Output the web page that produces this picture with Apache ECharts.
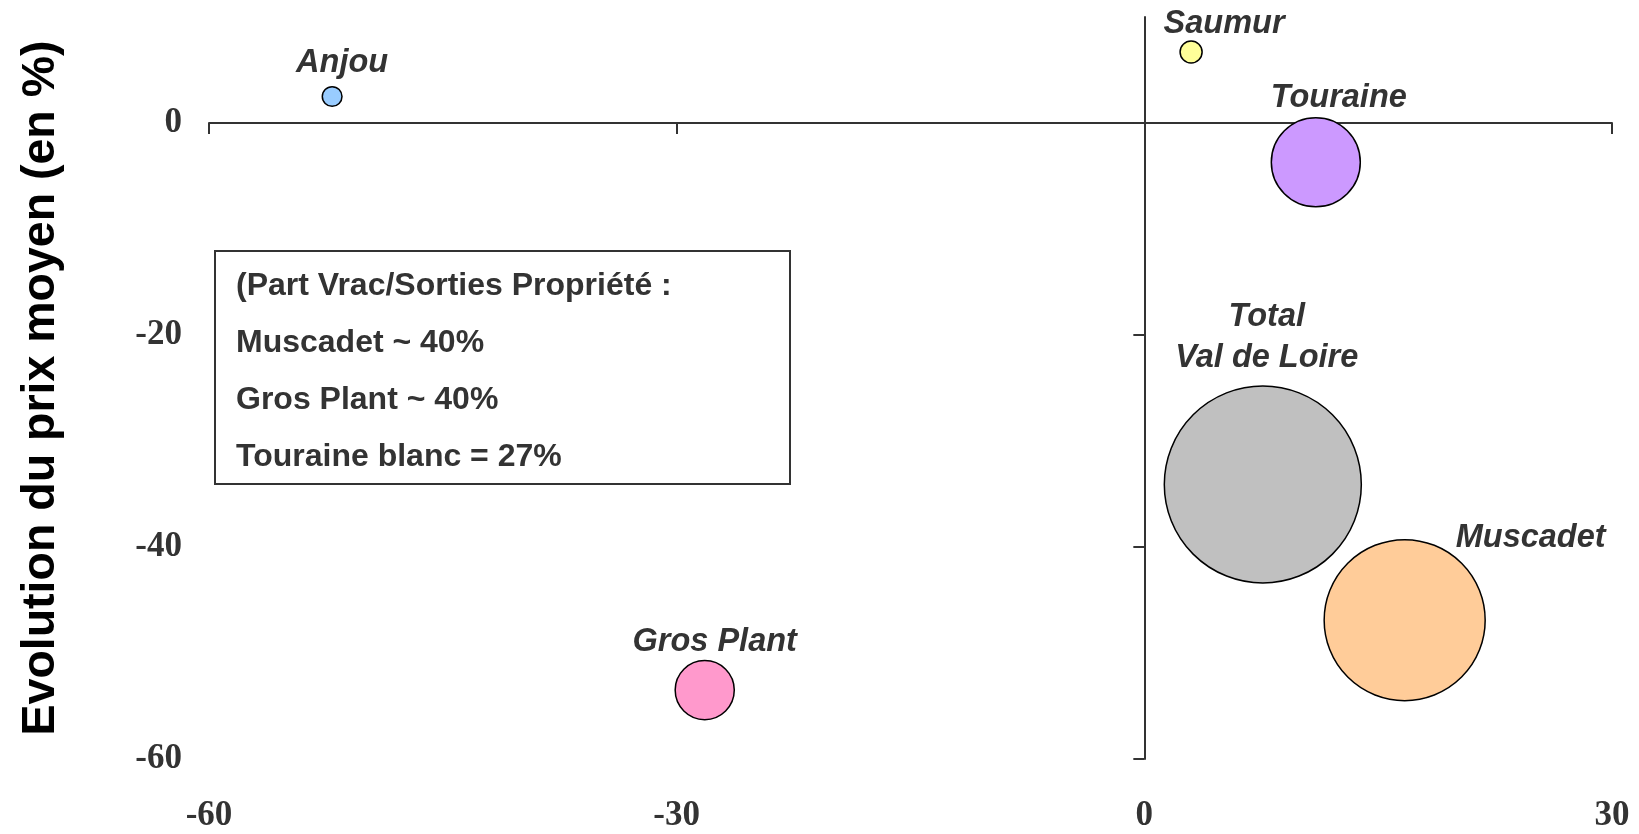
<!DOCTYPE html>
<html>
<head>
<meta charset="utf-8">
<script src="https://cdn.jsdelivr.net/npm/echarts@6/dist/echarts.min.js"></script>
<style>
    html, body { margin: 0; padding: 0; background: #fff; }
    #main { width: 1639px; height: 834px; }
</style>
</head>
<body>
<div id="main"></div>
<script>
// données
const names = ['Anjou', 'Saumur', 'Touraine', 'Total\nVal de Loire', 'Muscadet', 'Gros Plant'];
const volEvol = [-52.1, 3.0, 11.0, 7.6, 16.7, -28.2];      // axe x
const priceEvol = [2.5, 6.7, -3.7, -34.1, -46.9, -53.5];   // axe y (en %)
const bubbleVol = [1.0, 1.25, 20.4, 100, 66.8, 9.0];       // taille relative (Total = 100)
const xTicks = [-60, -30, 0, 30];
const yTicks = [-60, -40, -20, 0];
const noteLines = ['(Part Vrac/Sorties Propriété :', 'Muscadet ~ 40%', 'Gros Plant ~ 40%', 'Touraine blanc = 27%'];

// styles
const colors = ['#99CCFF', '#FFFF99', '#CC99FF', '#C0C0C0', '#FFCC99', '#FF99CC'];
const labelOffsets = [[10, -33], [33, -28], [23, -64], [4, -147], [126, -82], [10, -48]];
const maxDiam = 197;

const chartDom = document.getElementById('main');
const myChart = echarts.init(chartDom);

const axisColor = '#333';
const tickFont = {
    fontFamily: 'Liberation Serif',
    fontWeight: 'bold',
    fontSize: 35,
    color: '#333'
};

const seriesData = names.map((n, i) => ({
    name: n,
    value: [volEvol[i], priceEvol[i], bubbleVol[i]],
    itemStyle: { color: colors[i] },
    label: { offset: labelOffsets[i] }
}));

const option = {
    animation: false,
    grid: { left: 209, right: 27, top: 17, bottom: 75 },
    xAxis: [
        {
            type: 'value', position: 'bottom', min: -60, max: 30, interval: 30,
            axisLine: { onZero: true, lineStyle: { color: axisColor, width: 2 } },
            axisTick: { show: true, length: 11, customValues: xTicks, lineStyle: { color: axisColor, width: 2 } },
            axisLabel: { show: false },
            splitLine: { show: false }
        },
        {
            type: 'value', position: 'bottom', min: -60, max: 30, interval: 30,
            axisLine: { show: false, onZero: false },
            axisTick: { show: false },
            axisLabel: Object.assign({ margin: 39, customValues: xTicks }, tickFont),
            splitLine: { show: false }
        }
    ],
    yAxis: [
        {
            type: 'value', position: 'left', min: -60, max: 10, interval: 20,
            axisLine: { onZero: true, lineStyle: { color: axisColor, width: 2 } },
            axisTick: { show: true, length: 11, customValues: yTicks, lineStyle: { color: axisColor, width: 2 } },
            axisLabel: { show: false },
            splitLine: { show: false }
        },
        {
            type: 'value', position: 'left', min: -60, max: 10, interval: 20,
            axisLine: { show: false, onZero: false },
            axisTick: { show: false },
            axisLabel: Object.assign({ margin: 27, customValues: yTicks }, tickFont),
            splitLine: { show: false },
            name: 'Evolution du prix moyen (en %)',
            nameLocation: 'middle',
            nameRotate: 90,
            nameGap: 144,
            nameTextStyle: {
                fontFamily: 'Liberation Sans',
                fontWeight: 'bold',
                fontSize: 46.5,
                color: '#000'
            }
        }
    ],
    graphic: [
        {
            type: 'rect',
            shape: { x: 215, y: 251, width: 575, height: 233 },
            style: { fill: '#fff', stroke: '#333', lineWidth: 2 },
            z: 1
        },
        {
            type: 'text',
            x: 236,
            y: 258,
            style: {
                text: noteLines.join('\n'),
                fontFamily: 'Liberation Sans',
                fontWeight: 'bold',
                fontSize: 32,
                lineHeight: 57,
                fill: '#333'
            },
            z: 2
        }
    ],
    series: [{
        type: 'scatter',
        xAxisIndex: 0,
        yAxisIndex: 0,
        data: seriesData,
        symbolSize: function (val) {
            return maxDiam * Math.sqrt(val[2] / 100);
        },
        itemStyle: { borderColor: '#000', borderWidth: 1.5, opacity: 1 },
        label: {
            show: true,
            position: 'inside',
            formatter: '{b}',
            fontFamily: 'Liberation Sans',
            fontStyle: 'italic',
            fontWeight: 'bold',
            fontSize: 32.5,
            lineHeight: 41,
            align: 'center',
            verticalAlign: 'middle',
            color: '#333'
        },
        emphasis: { disabled: true }
    }]
};

option && myChart.setOption(option);
</script>
</body>
</html>
